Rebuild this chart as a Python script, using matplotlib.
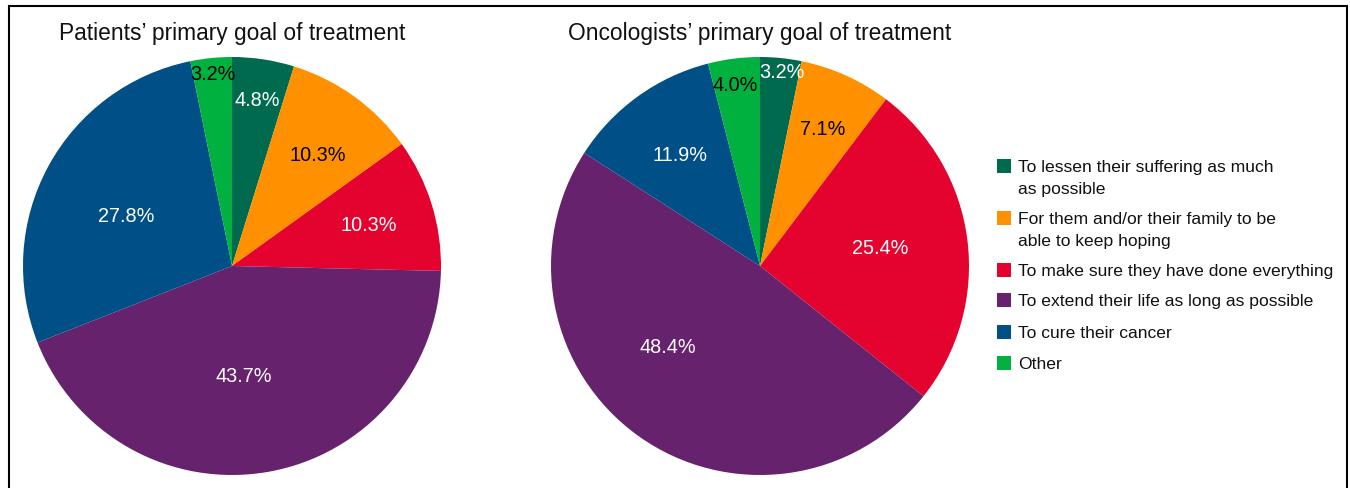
import matplotlib
matplotlib.use('Agg')
import matplotlib.pyplot as plt
import numpy as np
from matplotlib.patches import Rectangle

plt.rcParams['font.family'] = ['Liberation Sans', 'DejaVu Sans']

categories = ["To lessen their suffering as much\nas possible",
              "For them and/or their family to be\nable to keep hoping",
              "To make sure they have done everything",
              "To extend their life as long as possible",
              "To cure their cancer",
              "Other"]
patients = [4.8, 10.3, 10.3, 43.7, 27.8, 3.2]
oncologists = [3.2, 7.1, 25.4, 48.4, 11.9, 4.0]
titles = ["Patients’ primary goal of treatment", "Oncologists’ primary goal of treatment"]

colors = ["#006A4E", "#FF9100", "#E4032E", "#66226C", "#004F86", "#00B140"]
label_colors = ["white", "black", "white", "white", "white", "black"]

# label placement styling (radial fraction, angular offset in degrees)
label_r = [[0.80, 0.67, 0.68, 0.53, 0.56, 0.92],
           [0.93, 0.72, 0.58, 0.59, 0.65, 0.87]]
label_dtheta = [[0, -2, -0.7, -4, 3.5, 0],
                [-0.7, -0.2, 1.3, -12.7, 0, 0.7]]

W, H = 1350, 488
fig = plt.figure(figsize=(W / 100, H / 100), dpi=100)

def px_axes(cx, cy, r):
    return fig.add_axes([(cx - r) / W, 1 - (cy + r) / H, 2 * r / W, 2 * r / H])

centers = [(232, 266), (760, 266)]
radius_px = 209
for k, vals in enumerate([patients, oncologists]):
    cx, cy = centers[k]
    ax = px_axes(cx, cy, radius_px)
    wedges, _ = ax.pie(vals, colors=colors, startangle=90, counterclock=False,
                       radius=1, wedgeprops=dict(linewidth=0))
    ax.set_xlim(-1, 1)
    ax.set_ylim(-1, 1)
    ax.set_aspect('equal')
    ax.axis('off')
    for i, w in enumerate(wedges):
        mid = np.deg2rad((w.theta1 + w.theta2) / 2 + label_dtheta[k][i])
        rr = label_r[k][i]
        ax.text(rr * np.cos(mid), rr * np.sin(mid), f"{vals[i]:.1f}%",
                ha='center', va='center', fontsize=14.3, color=label_colors[i])
    fig.text(cx / W, 1 - 33.5 / H, titles[k], ha='center', va='center', fontsize=16.4,
             color='#111111')

# legend drawn manually
legend_y = [166, 218, 270, 300, 332, 363]
line_h = 22
for i, lab in enumerate(categories):
    y = legend_y[i]
    fig.add_artist(Rectangle((997 / W, 1 - (y + 7) / H), 14 / W, 14 / H,
                             transform=fig.transFigure, facecolor=colors[i],
                             edgecolor='none'))
    for j, line in enumerate(lab.split("\n")):
        fig.text(1018 / W, 1 - (y + j * line_h + 6) / H, line, ha='left',
                 va='baseline', fontsize=12.6, color='#111111')

# outer frame (bottom edge cut off)
fig.add_artist(Rectangle((8.5 / W, -0.1), (1347 - 8.5) / W, 1 - 6.5 / H + 0.1,
                         transform=fig.transFigure, fill=False, lw=1.5,
                         edgecolor='black'))

fig.savefig("out.png", dpi=100)
